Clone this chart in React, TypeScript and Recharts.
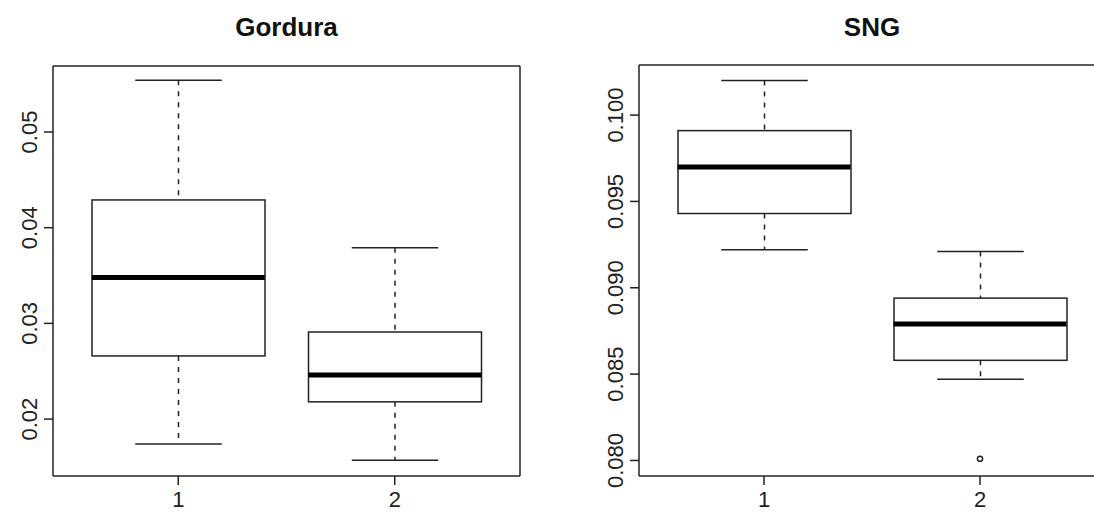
import { ComposedChart, Bar, Scatter, XAxis, YAxis } from 'recharts'

// groups on the x axis
const groups = ['1', '2']

// Gordura box stats per group
const gorduraMin = [0.0174, 0.0157]
const gorduraQ1 = [0.0266, 0.0218]
const gorduraMedian = [0.0348, 0.0246]
const gorduraQ3 = [0.0429, 0.0291]
const gorduraMax = [0.0554, 0.0379]
const gorduraOutliers: (number | null)[] = [null, null]
const gorduraTicks = [0.02, 0.03, 0.04, 0.05]
const gorduraDomain = [0.01405, 0.0569]

// SNG box stats per group
const sngMin = [0.0922, 0.0847]
const sngQ1 = [0.0943, 0.0858]
const sngMedian = [0.097, 0.0879]
const sngQ3 = [0.0991, 0.0894]
const sngMax = [0.102, 0.0921]
const sngOutliers: (number | null)[] = [null, 0.0801]
const sngTicks = [0.08, 0.085, 0.09, 0.095, 0.1]
const sngDomain = [0.0791, 0.1029]

const FONT = '"Liberation Sans", Arial, Helvetica, sans-serif'
const INK = '#222'
const BOX_WIDTH = 173

const buildRows = (
	mins: number[],
	q1s: number[],
	medians: number[],
	q3s: number[],
	maxs: number[],
	outliers: (number | null)[]
) =>
	groups.map((g, i) => ({
		group: g,
		low: [mins[i], q1s[i]],
		box: [q1s[i], q3s[i]],
		high: [q3s[i], maxs[i]],
		median: medians[i],
		outlier: outliers[i],
	}))

const gorduraRows = buildRows(gorduraMin, gorduraQ1, gorduraMedian, gorduraQ3, gorduraMax, gorduraOutliers)
const sngRows = buildRows(sngMin, sngQ1, sngMedian, sngQ3, sngMax, sngOutliers)

function BoxShape(props: any) {
	const { x, y, width, height } = props
	return <rect x={x} y={y} width={width} height={height} fill='#fff' stroke={INK} strokeWidth={1.5} />
}

function HighWhisker(props: any) {
	const { x, y, width, height } = props
	const cx = x + width / 2
	const cap = width / 4
	return (
		<g>
			<line x1={cx} y1={y} x2={cx} y2={y + height} stroke={INK} strokeWidth={1.5} strokeDasharray='5 6' />
			<line x1={cx - cap} y1={y} x2={cx + cap} y2={y} stroke={INK} strokeWidth={1.5} />
		</g>
	)
}

function LowWhisker(props: any) {
	const { x, y, width, height } = props
	const cx = x + width / 2
	const cap = width / 4
	return (
		<g>
			<line x1={cx} y1={y} x2={cx} y2={y + height} stroke={INK} strokeWidth={1.5} strokeDasharray='5 6' />
			<line x1={cx - cap} y1={y + height} x2={cx + cap} y2={y + height} stroke={INK} strokeWidth={1.5} />
		</g>
	)
}

function MedianShape(props: any) {
	const { cx, cy } = props
	return <line x1={cx - BOX_WIDTH / 2} y1={cy} x2={cx + BOX_WIDTH / 2} y2={cy} stroke='#000' strokeWidth={5} />
}

function OutlierShape(props: any) {
	const { cx, cy, payload } = props
	if (payload == null || payload.outlier == null) return <g />
	return <circle cx={cx} cy={cy} r={2.6} fill='none' stroke={INK} strokeWidth={1.5} />
}

function makeYTick(decimals: number) {
	return function YTick(props: any) {
		const { x, y, payload } = props
		return (
			<text
				x={x}
				y={y}
				transform={`rotate(-90, ${x}, ${y})`}
				textAnchor='middle'
				fontSize={22}
				fontFamily={FONT}
				fill={INK}
			>
				{Number(payload.value).toFixed(decimals)}
			</text>
		)
	}
}

type PanelProps = {
	rows: any[]
	ticks: number[]
	domain: number[]
	decimals: number
	width: number
	yWidth: number
	top: number
	marginRight: number
	frameRight: boolean
}

function BoxPanel({ rows, ticks, domain, decimals, width, yWidth, top, marginRight, frameRight }: PanelProps) {
	const pad = { left: 17, right: 17 }
	return (
		<ComposedChart
			width={width}
			height={512}
			data={rows}
			margin={{ top, right: marginRight, bottom: 0, left: 0 }}
			style={{ fontFamily: FONT }}
		>
			<XAxis
				xAxisId='main'
				dataKey='group'
				padding={pad}
				height={36}
				tickSize={9}
				tickMargin={6}
				stroke={INK}
				strokeWidth={1.5}
				tick={{ fill: INK, fontSize: 22, fontFamily: FONT }}
			/>
			<XAxis xAxisId='lo' dataKey='group' padding={pad} height={0} hide />
			<XAxis xAxisId='hi' dataKey='group' padding={pad} height={0} hide />
			{/* top edge of the plot frame */}
			<XAxis
				xAxisId='top'
				orientation='top'
				dataKey='group'
				height={1}
				tick={false}
				tickLine={false}
				stroke={INK}
				strokeWidth={1.5}
			/>
			<YAxis
				type='number'
				domain={domain}
				ticks={ticks}
				allowDataOverflow
				width={yWidth}
				tickSize={9}
				tickMargin={7}
				stroke={INK}
				strokeWidth={1.5}
				tick={makeYTick(decimals)}
			/>
			{/* right edge of the plot frame (the second panel's lies outside the picture) */}
			{frameRight && (
				<YAxis
					yAxisId='right'
					orientation='right'
					type='number'
					domain={domain}
					width={1}
					tick={false}
					tickLine={false}
					stroke={INK}
					strokeWidth={1.5}
				/>
			)}
			<Bar xAxisId='lo' dataKey='low' barSize={BOX_WIDTH} shape={LowWhisker} isAnimationActive={false} />
			<Bar xAxisId='hi' dataKey='high' barSize={BOX_WIDTH} shape={HighWhisker} isAnimationActive={false} />
			<Bar xAxisId='main' dataKey='box' barSize={BOX_WIDTH} shape={BoxShape} isAnimationActive={false} />
			<Scatter xAxisId='main' dataKey='median' shape={MedianShape} isAnimationActive={false} />
			<Scatter xAxisId='main' dataKey='outlier' shape={OutlierShape} isAnimationActive={false} />
		</ComposedChart>
	)
}

export default function App() {
	return (
		<div
			style={{
				position: 'absolute',
				left: 0,
				top: 0,
				width: 1094,
				height: 512,
				overflow: 'hidden',
				background: '#fff',
			}}
		>
			<svg width={1094} height={50} style={{ position: 'absolute', left: 0, top: 0 }}>
				<text x={286.5} y={36} textAnchor='middle' fontSize={26} fontWeight='bold' fontFamily={FONT} fill='#111'>
					Gordura
				</text>
				<text x={872} y={36} textAnchor='middle' fontSize={26} fontWeight='bold' fontFamily={FONT} fill='#111'>
					SNG
				</text>
			</svg>
			<div style={{ position: 'absolute', left: 0, top: 0 }}>
				<BoxPanel
					rows={gorduraRows}
					ticks={gorduraTicks}
					domain={gorduraDomain}
					decimals={2}
					width={547}
					yWidth={53}
					top={65}
					marginRight={26}
					frameRight={true}
				/>
			</div>
			<div style={{ position: 'absolute', left: 547, top: 0 }}>
				<BoxPanel
					rows={sngRows}
					ticks={sngTicks}
					domain={sngDomain}
					decimals={3}
					width={560}
					yWidth={92}
					top={64}
					marginRight={2}
					frameRight={false}
				/>
			</div>
		</div>
	)
}
